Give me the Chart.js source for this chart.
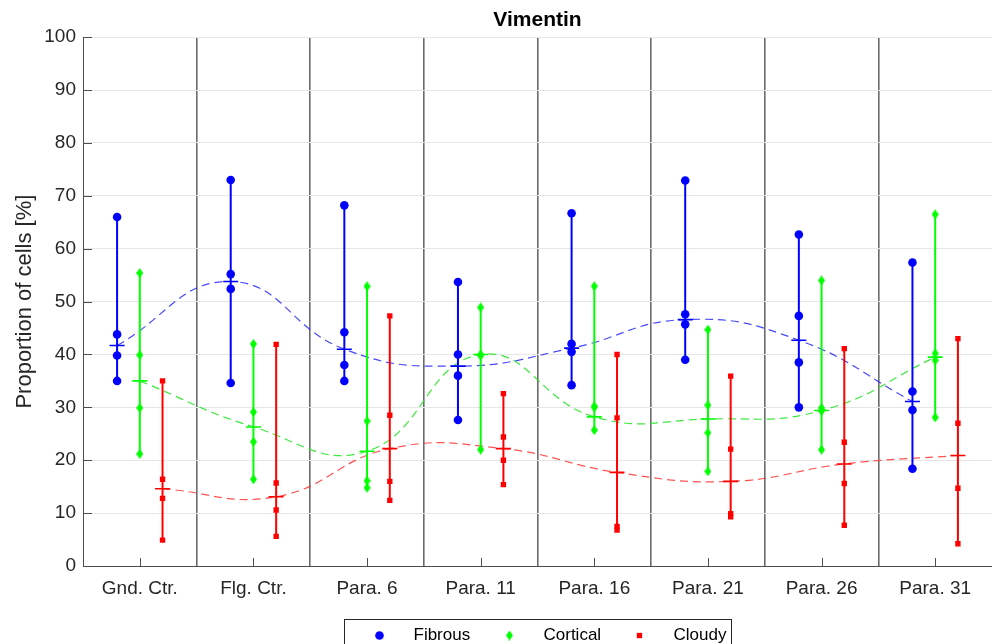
<!DOCTYPE html>
<html>
<head>
<meta charset="utf-8">
<script src="https://cdn.jsdelivr.net/npm/chart.js@4.4.1/dist/chart.umd.min.js"></script>
<style>
  html, body { margin: 0; padding: 0; background: #fff; }
</style>
</head>
<body>
<canvas id="chart" width="992" height="644"></canvas>
<script>
// ===== DATA =====
const categories = ["Gnd. Ctr.", "Flg. Ctr.", "Para. 6", "Para. 11", "Para. 16", "Para. 21", "Para. 26", "Para. 31"];
const yTicks = [0, 10, 20, 30, 40, 50, 60, 70, 80, 90, 100];

const fibrous = [
  [66, 43.8, 39.8, 35], [73, 55.2, 52.4, 34.6], [68.2, 44.2, 38, 35], [53.7, 40, 36, 27.6],
  [66.7, 42, 40.5, 34.2], [72.9, 47.6, 45.7, 39], [62.7, 47.3, 38.5, 30], [57.4, 33, 29.5, 18.4],
];
const fibrousMean = [41.7, 53.8, 41, 37.8, 41.2, 46.6, 42.7, 31.1];

const cortical = [
  [55.4, 39.9, 29.9, 21.2], [42, 29.1, 23.5, 16.4], [52.9, 27.4, 16.1, 14.8], [48.9, 40, 39.8, 22],
  [52.9, 30.2, 30, 25.7], [44.7, 30.4, 25.2, 17.9], [54, 29.9, 29.3, 22], [66.5, 40.2, 38.9, 28.1],
];
const corticalMean = [35, 26.3, 21.7, 40, 28.2, 27.8, 29.4, 39.5];

const cloudy = [
  [35, 16.4, 12.8, 4.9], [41.9, 15.7, 10.6, 5.6], [47.3, 28.5, 16, 12.4], [32.6, 24.4, 20, 15.4],
  [40, 28, 7.5, 6.8], [35.9, 22.1, 9.9, 9.3], [41.1, 23.4, 15.6, 7.7], [43, 27, 14.7, 4.2],
];
const cloudyMean = [14.6, 13.1, 22.2, 22.2, 17.7, 16, 19.3, 20.9];

// ===== STYLE =====
const FONT = "'Liberation Sans', Arial, Helvetica, sans-serif";
const TEXT = "#262626";

function diamond(color, w, h) {
  const c = document.createElement("canvas");
  c.width = w;
  c.height = h;
  const g = c.getContext("2d");
  g.fillStyle = color;
  g.beginPath();
  g.moveTo(w / 2, 0);
  g.lineTo(w, h / 2);
  g.lineTo(w / 2, h);
  g.lineTo(0, h / 2);
  g.closePath();
  g.fill();
  return c;
}

const series = [
  { name: "Fibrous", pts: fibrous, mean: fibrousMean, off: -0.2, color: "#0000ff",
    dash: "rgba(40,40,255,0.85)", style: "circle", radius: 4.3 },
  { name: "Cortical", pts: cortical, mean: corticalMean, off: 0, color: "#00ff00",
    dash: "rgba(40,230,40,0.9)", style: diamond("#00ff00", 7, 10), radius: 5 },
  { name: "Cloudy", pts: cloudy, mean: cloudyMean, off: 0.2, color: "#ff0000",
    dash: "rgba(255,50,50,0.85)", style: "rect", radius: 3.8 },
];

// ===== DATASETS =====
const datasets = [];
series.forEach((s) => {
  // dashed smooth curve through the means
  datasets.push({
    type: "line",
    data: s.mean.map((v, i) => ({ x: i + 1 + s.off, y: v })),
    borderColor: s.dash,
    borderWidth: 1.2,
    borderDash: [8, 5],
    tension: 0.45,
    pointRadius: 0,
    order: 3,
  });
  // min-max range lines
  const range = [];
  s.pts.forEach((arr, i) => {
    const x = i + 1 + s.off;
    range.push({ x, y: Math.min(...arr) }, { x, y: Math.max(...arr) }, { x, y: null });
  });
  datasets.push({
    type: "line",
    data: range,
    borderColor: s.color,
    borderWidth: 2,
    pointRadius: 0,
    spanGaps: false,
    tension: 0,
    order: 2,
  });
  // individual values
  datasets.push({
    type: "scatter",
    data: s.pts.flatMap((arr, i) => arr.map((v) => ({ x: i + 1 + s.off, y: v }))),
    pointStyle: s.style,
    pointRadius: s.radius,
    backgroundColor: s.color,
    borderColor: s.color,
    borderWidth: 0,
    order: 1,
  });
  // mean marker
  datasets.push({
    type: "scatter",
    data: s.mean.map((v, i) => ({ x: i + 1 + s.off, y: v })),
    pointStyle: "line",
    pointRadius: 7.5,
    borderColor: s.color,
    borderWidth: 1.6,
    order: 1,
  });
});

// ===== PLUGINS =====
// short inward tick marks like the original axes
const innerTicks = {
  id: "innerTicks",
  beforeDatasetsDraw(chart) {
    const { ctx, chartArea, scales } = chart;
    ctx.save();
    ctx.strokeStyle = "#4d4d4d";
    ctx.lineWidth = 1;
    ctx.beginPath();
    yTicks.forEach((v) => {
      const y = Math.round(scales.y.getPixelForValue(v)) + 0.5;
      ctx.moveTo(chartArea.left, y);
      ctx.lineTo(chartArea.left + 9, y);
    });
    categories.forEach((c, i) => {
      const x = Math.round(scales.x.getPixelForValue(i + 1)) + 0.5;
      ctx.moveTo(x, chartArea.bottom);
      ctx.lineTo(x, chartArea.bottom - 8);
    });
    ctx.stroke();
    ctx.restore();
  },
};

// boxed legend under the axis
const boxLegend = {
  id: "boxLegend",
  afterDraw(chart) {
    const { ctx, chartArea } = chart;
    const cx = (chartArea.left + chartArea.right) / 2;
    const left = Math.round(cx - 194) + 0.5;
    const top = Math.round(chartArea.bottom + 53) + 0.5;
    const midY = top + 16;
    ctx.save();
    ctx.fillStyle = "#fff";
    ctx.fillRect(left, top, 387, 40);
    ctx.strokeStyle = "#262626";
    ctx.lineWidth = 1;
    ctx.strokeRect(left, top, 387, 40);
    ctx.font = "17px " + FONT;
    ctx.textBaseline = "middle";
    ctx.textAlign = "left";
    series.forEach((s, i) => {
      const mx = left + 35 + i * 130;
      ctx.fillStyle = s.color;
      ctx.strokeStyle = s.color;
      Chart.helpers.drawPoint(ctx, {
        pointStyle: s.style,
        radius: s.radius,
        rotation: 0,
        borderWidth: 0,
      }, mx, midY);
      ctx.fillStyle = "#000";
      ctx.fillText(s.name, mx + 34, midY);
    });
    ctx.restore();
  },
};

// ===== CHART =====
new Chart(document.getElementById("chart"), {
  data: { datasets },
  options: {
    responsive: false,
    animation: false,
    layout: { padding: 0, autoPadding: false },
    plugins: {
      legend: { display: false },
      tooltip: { enabled: false },
      title: {
        display: true,
        text: "Vimentin",
        fullSize: false,
        color: "#000",
        font: { family: FONT, size: 21, weight: "bold" },
        padding: { top: 8, bottom: 4 },
      },
    },
    scales: {
      x: {
        type: "linear",
        min: 0.5,
        max: 8.5,
        afterBuildTicks: (scale) => {
          scale.ticks = categories.map((c, i) => ({ value: i + 1 }));
        },
        afterFit: (scale) => {
          scale.height = 78;
        },
        ticks: {
          callback: (v) => categories[v - 1],
          color: TEXT,
          font: { family: FONT, size: 19 },
          padding: 11,
          maxRotation: 0,
          autoSkip: false,
        },
        grid: { display: false, drawTicks: false },
        border: { color: "#4d4d4d", width: 1 },
      },
      sep: {
        type: "linear",
        position: "bottom",
        min: 0.5,
        max: 8.5,
        afterBuildTicks: (scale) => {
          scale.ticks = categories.slice(1).map((c, i) => ({ value: i + 1.5 }));
        },
        afterFit: (scale) => {
          scale.height = 0;
        },
        ticks: { display: false },
        grid: { color: "#6b6b6b", lineWidth: 1.6, drawTicks: false },
        border: { display: false },
      },
      y: {
        min: 0,
        max: 100,
        afterBuildTicks: (scale) => {
          scale.ticks = yTicks.map((v) => ({ value: v }));
        },
        afterFit: (scale) => {
          scale.width = 83;
        },
        ticks: {
          color: TEXT,
          font: { family: FONT, size: 19 },
          padding: 7,
        },
        grid: { color: "#e6e6e6", lineWidth: 1, drawTicks: false },
        border: { color: "#4d4d4d", width: 1 },
        title: {
          display: true,
          text: "Proportion of cells [%]",
          color: TEXT,
          font: { family: FONT, size: 22 },
          padding: { top: 12, bottom: 0 },
        },
      },
    },
  },
  plugins: [innerTicks, boxLegend],
});
</script>
</body>
</html>
